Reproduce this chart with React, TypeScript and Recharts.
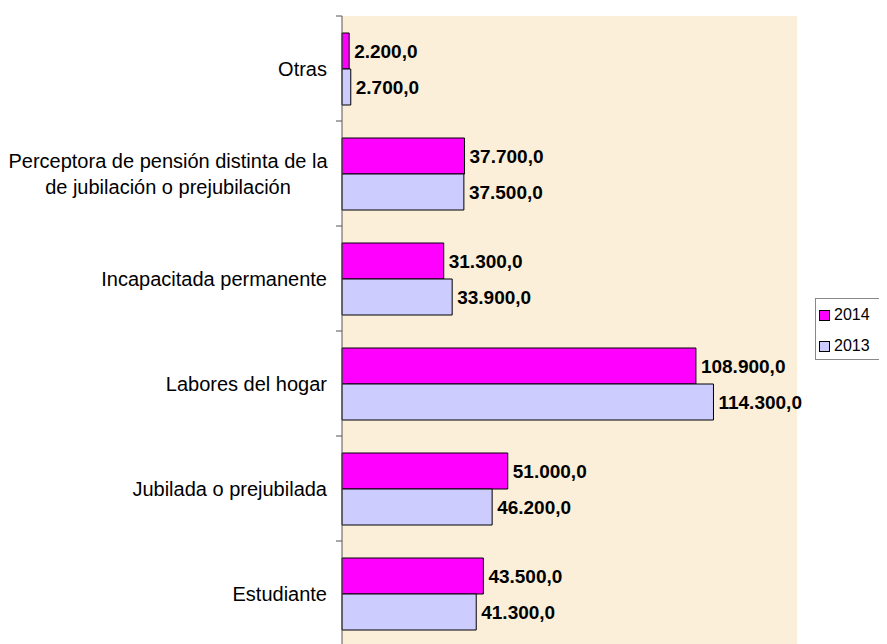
import { BarChart, Bar, XAxis, YAxis, CartesianGrid, LabelList } from "recharts";

const categories = [
  "Otras",
  "Perceptora de pensión distinta de la\nde jubilación o prejubilación",
  "Incapacitada permanente",
  "Labores del hogar",
  "Jubilada o prejubilada",
  "Estudiante",
];
const values2014 = [2200, 37700, 31300, 108900, 51000, 43500];
const values2013 = [2700, 37500, 33900, 114300, 46200, 41300];
const seriesNames = ["2014", "2013"];
const colors = ["#FF00FF", "#CCCCFF"];

const data = categories.map((name, i) => ({
  name,
  v2014: values2014[i],
  v2013: values2013[i],
}));

const fmt = (v: number) => {
  const s = Math.round(v).toString().replace(/\B(?=(\d{3})+(?!\d))/g, ".");
  return s + ",0";
};

const BAND = 105;
const FONT = "'Liberation Sans', Arial, sans-serif";

const CategoryTick = (props: any) => {
  const { x, y, payload, index } = props;
  const lines: string[] = String(payload.value).split("\n");
  const axisX = x + 8;
  return (
    <g>
      <line x1={axisX - 6} x2={axisX} y1={y - BAND / 2} y2={y - BAND / 2} stroke="#555" />
      {index === categories.length - 1 && (
        <line x1={axisX - 6} x2={axisX} y1={y + BAND / 2} y2={y + BAND / 2} stroke="#555" />
      )}
      {lines.length === 1 ? (
        <text x={axisX - 15} y={y} textAnchor="end" dominantBaseline="central" fontSize={20} fontFamily={FONT} fill="#000">
          {lines[0]}
        </text>
      ) : (
        lines.map((l, i) => (
          <text
            key={i}
            x={axisX - 174}
            y={y + (i - (lines.length - 1) / 2) * 26}
            textAnchor="middle"
            dominantBaseline="central"
            fontSize={20}
            fontFamily={FONT}
            fill="#000"
          >
            {l}
          </text>
        ))
      )}
    </g>
  );
};

const labelStyle = { fontSize: 19, fontWeight: "bold" as const, fontFamily: FONT, fill: "#000" };

export default function App() {
  return (
    <div style={{ position: "relative", width: 879, height: 640 }}>
      <BarChart
        width={879}
        height={640}
        data={data}
        layout="vertical"
        margin={{ top: 8, right: 90, bottom: 2, left: 0 }}
        barGap={0}
      >
        <CartesianGrid horizontal={false} vertical={false} fill="#FBEFDA" />
        <XAxis type="number" domain={[0, 140000]} hide />
        <YAxis
          type="category"
          dataKey="name"
          width={334}
          axisLine={{ stroke: "#555" }}
          tickLine={false}
          tick={<CategoryTick />}
          interval={0}
        />
        <Bar dataKey="v2014" name="2014" fill={colors[0]} stroke="#000" barSize={36} isAnimationActive={false}>
          <LabelList dataKey="v2014" position="right" offset={5} formatter={(v: any) => fmt(Number(v))} style={labelStyle} />
        </Bar>
        <Bar dataKey="v2013" name="2013" fill={colors[1]} stroke="#000" barSize={36} isAnimationActive={false}>
          <LabelList dataKey="v2013" position="right" offset={5} formatter={(v: any) => fmt(Number(v))} style={labelStyle} />
        </Bar>
      </BarChart>
      <div
        style={{
          position: "absolute",
          left: 807,
          top: 290,
          width: 90,
          height: 62,
          border: "1px solid #888",
          background: "#fff",
          boxSizing: "border-box",
          fontFamily: FONT,
          fontSize: 16,
          paddingTop: 5,
          paddingLeft: 3,
        }}
      >
        {seriesNames.map((n, i) => (
          <div key={n} style={{ display: "flex", alignItems: "center", height: 22, marginBottom: 9 }}>
            <span
              style={{
                display: "inline-block",
                width: 9,
                height: 9,
                background: colors[i],
                border: "1px solid #000",
                marginRight: 4,
              }}
            />
            <span>{n}</span>
          </div>
        ))}
      </div>
    </div>
  );
}
